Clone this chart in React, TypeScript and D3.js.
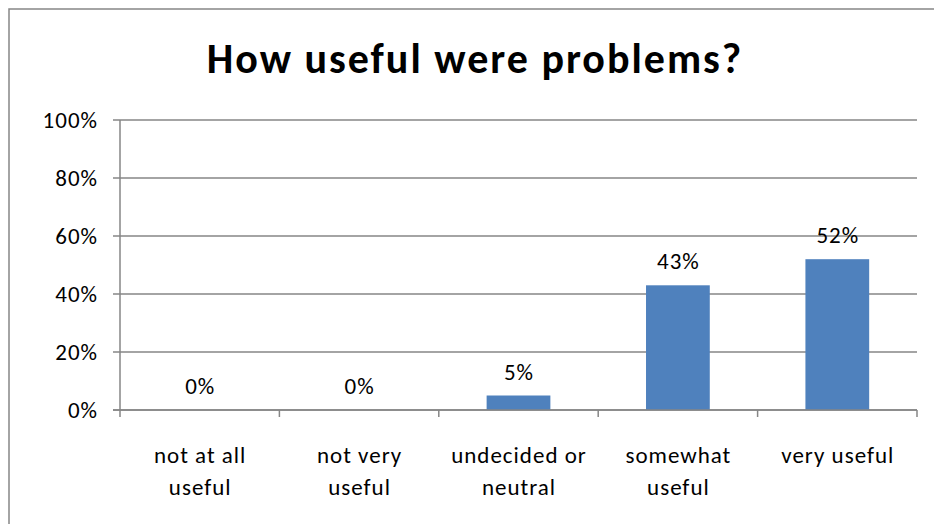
import React from "react";
import * as d3 from "d3";

const categories: string[][] = [
  ["not at all", "useful"],
  ["not very", "useful"],
  ["undecided or", "neutral"],
  ["somewhat", "useful"],
  ["very useful"],
];
const values: number[] = [0, 0, 5, 43, 52];
const yTicks: number[] = [0, 20, 40, 60, 80, 100];
const title = "How useful were problems?";

const W = 934;
const H = 524;
const M = { left: 120, right: 917, top: 120, bottom: 410 };
const FONT = "Carlito, Calibri, Lato, 'Open Sans', sans-serif";
const FS = 23;
const LS = 1;

export default function App() {
  const x = d3
    .scaleBand<number>()
    .domain(values.map((_, i) => i))
    .range([M.left, M.right])
    .paddingInner(0.6)
    .paddingOuter(0.3);
  const step = x.step();
  const y = d3.scaleLinear().domain([0, 100]).range([M.bottom, M.top]);
  const grid = "#868686";

  return (
    <svg
      width={W}
      height={H}
      style={{ position: "absolute", left: 0, top: 0, background: "#fff" }}
    >
      <rect x={9} y={9} width={940} height={540} fill="#fff" stroke={grid} strokeWidth={1.5} />
      <text
        x={474 + 1}
        y={73}
        textAnchor="middle"
        fontFamily={FONT}
        fontWeight="bold"
        fontSize={42}
        letterSpacing={2}
        fill="#000"
      >
        {title}
      </text>
      {yTicks.map((t) => (
        <g key={t}>
          <line x1={M.left - 7} x2={M.right} y1={y(t)} y2={y(t)} stroke={grid} strokeWidth={1.5} />
          <text
            x={97 + LS}
            y={y(t) + 8}
            textAnchor="end"
            fontFamily={FONT}
            fontSize={FS}
            letterSpacing={LS}
            fill="#000"
          >
            {t}%
          </text>
        </g>
      ))}
      <line x1={M.left} x2={M.left} y1={M.top} y2={M.bottom} stroke={grid} strokeWidth={1.5} />
      {values.map((_, i) => {
        const bx = M.left + step * i;
        return <line key={"t" + i} x1={bx} x2={bx} y1={M.bottom} y2={M.bottom + 7} stroke={grid} strokeWidth={1.5} />;
      })}
      <line x1={M.right} x2={M.right} y1={M.bottom} y2={M.bottom + 7} stroke={grid} strokeWidth={1.5} />
      {values.map((v, i) => (
        <rect
          key={"b" + i}
          x={x(i)!}
          y={y(v)}
          width={x.bandwidth()}
          height={M.bottom - y(v)}
          fill="#4F81BD"
        />
      ))}
      {values.map((v, i) => (
        <text
          key={"l" + i}
          x={x(i)! + x.bandwidth() / 2 + LS / 2}
          y={y(v) - 16}
          textAnchor="middle"
          fontFamily={FONT}
          fontSize={FS}
          letterSpacing={LS}
          fill="#000"
        >
          {v}%
        </text>
      ))}
      {categories.map((lines, i) => (
        <text
          key={"c" + i}
          textAnchor="middle"
          fontFamily={FONT}
          fontSize={FS}
          letterSpacing={LS}
          fill="#000"
        >
          {lines.map((ln, j) => (
            <tspan key={j} x={M.left + step * (i + 0.5) + LS / 2} y={463 + j * 32}>
              {ln}
            </tspan>
          ))}
        </text>
      ))}
      <line x1={M.left - 7} x2={M.right} y1={M.bottom} y2={M.bottom} stroke={grid} strokeWidth={1.5} />
    </svg>
  );
}
